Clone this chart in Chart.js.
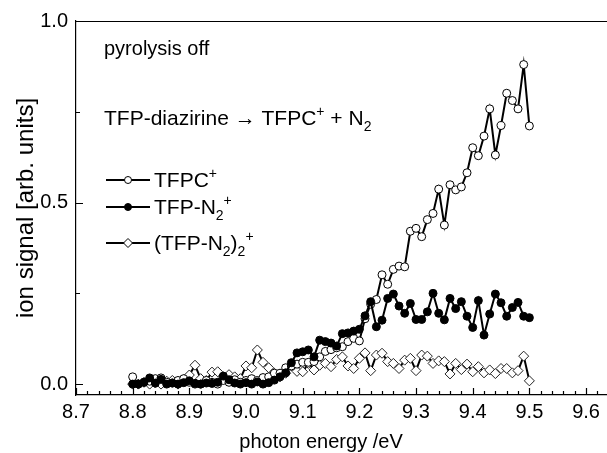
<!DOCTYPE html>
<html>
<head>
<meta charset="utf-8">
<script src="https://cdn.jsdelivr.net/npm/chart.js@4.4.1/dist/chart.umd.min.js"></script>
<style>
  html, body { margin: 0; padding: 0; background: #fff; }
  #chart { display: block; }
</style>
</head>
<body>
<canvas id="chart" width="607" height="453"></canvas>
<script>
const FONT = "'Liberation Sans', Arial, sans-serif";

// photon energy /eV
const ENERGY = [
  8.80, 8.81, 8.82, 8.83, 8.84, 8.85, 8.86, 8.87, 8.88, 8.89,
  8.90, 8.91, 8.92, 8.93, 8.94, 8.95, 8.96, 8.97, 8.98, 8.99,
  9.00, 9.01, 9.02, 9.03, 9.04, 9.05, 9.06, 9.07, 9.08, 9.09,
  9.10, 9.11, 9.12, 9.13, 9.14, 9.15, 9.16, 9.17, 9.18, 9.19,
  9.20, 9.21, 9.22, 9.23, 9.24, 9.25, 9.26, 9.27, 9.28, 9.29,
  9.30, 9.31, 9.32, 9.33, 9.34, 9.35, 9.36, 9.37, 9.38, 9.39,
  9.40, 9.41, 9.42, 9.43, 9.44, 9.45, 9.46, 9.47, 9.48, 9.49,
  9.50,
];

// TFPC+ (open circles)
const TFPC = [
  0.020, 0.000, 0.005, 0.008, 0.015, 0.017, 0.005, 0.003, 0.010, 0.015,
  0.005, 0.000, 0.000, 0.010, 0.005, 0.000, 0.010, 0.005, 0.012, 0.005,
  0.010, 0.015, 0.010, 0.018, 0.020, 0.030, 0.030, 0.045, 0.050, 0.055,
  0.060, 0.060, 0.062, 0.075, 0.090, 0.095, 0.100, 0.103, 0.117, 0.126,
  0.119, 0.180, 0.220, 0.233, 0.301, 0.275, 0.316, 0.325, 0.323, 0.421,
  0.429, 0.406, 0.453, 0.470, 0.537, 0.438, 0.549, 0.535, 0.543, 0.582,
  0.651, 0.629, 0.683, 0.758, 0.631, 0.712, 0.801, 0.781, 0.758, 0.880,
  0.711,
];

// TFP-N2+ (filled circles)
const TFPN2 = [
  0.000, 0.000, 0.005, 0.017, 0.003, 0.013, 0.000, 0.003, 0.000, 0.004,
  0.009, 0.002, 0.000, 0.003, 0.002, 0.005, 0.022, 0.012, 0.003, 0.000,
  0.004, 0.000, 0.006, 0.000, 0.004, 0.011, 0.020, 0.031, 0.059, 0.086,
  0.089, 0.094, 0.075, 0.121, 0.117, 0.113, 0.105, 0.139, 0.141, 0.146,
  0.151, 0.188, 0.227, 0.158, 0.176, 0.236, 0.248, 0.215, 0.195, 0.222,
  0.178, 0.178, 0.199, 0.250, 0.195, 0.177, 0.236, 0.208, 0.227, 0.187,
  0.156, 0.230, 0.135, 0.193, 0.248, 0.224, 0.187, 0.211, 0.225, 0.187,
  0.183,
];

// (TFP-N2)2+ (open diamonds)
const DIMER = [
  0.000, 0.000, 0.005, 0.000, 0.003, 0.000, 0.008, 0.010, 0.000, 0.012,
  0.025, 0.052, 0.015, 0.010, 0.033, 0.034, 0.020, 0.026, 0.020, 0.015,
  0.050, 0.045, 0.094, 0.060, 0.045, 0.030, 0.020, 0.030, 0.050, 0.035,
  0.034, 0.057, 0.039, 0.052, 0.057, 0.048, 0.068, 0.075, 0.050, 0.043,
  0.071, 0.086, 0.037, 0.080, 0.085, 0.062, 0.057, 0.043, 0.066, 0.071,
  0.037, 0.080, 0.077, 0.057, 0.064, 0.062, 0.028, 0.057, 0.040, 0.055,
  0.034, 0.048, 0.031, 0.039, 0.029, 0.043, 0.043, 0.031, 0.037, 0.077,
  0.009,
];

const X_MAJOR = [8.7, 8.8, 8.9, 9.0, 9.1, 9.2, 9.3, 9.4, 9.5, 9.6];
const Y_MAJOR = [0.0, 0.5, 1.0];
const Y_MINOR = [0.25, 0.75];

function points(ys) {
  return ENERGY.map((x, i) => ({ x, y: ys[i] }));
}

// text pieces: [string, "" | "sup" | "sub"]
function richText(ctx, parts, x, y, size) {
  let cx = x;
  for (const [t, mode] of parts) {
    const s = mode ? Math.round(size * 0.67) : size;
    ctx.font = `${s}px ${FONT}`;
    let dy = 0;
    if (mode === "sup") dy = -size * 0.42;
    if (mode === "sub") dy = size * 0.28;
    ctx.fillText(t, cx, y + dy);
    cx += ctx.measureText(t).width;
  }
}

function drawMarker(ctx, style, x, y, r) {
  ctx.beginPath();
  if (style === "diamond") {
    ctx.moveTo(x, y - r);
    ctx.lineTo(x + r, y);
    ctx.lineTo(x, y + r);
    ctx.lineTo(x - r, y);
    ctx.closePath();
  } else {
    ctx.arc(x, y, r, 0, Math.PI * 2);
  }
  ctx.fillStyle = style === "filled" ? "#000" : "#fff";
  ctx.fill();
  ctx.lineWidth = 1;
  ctx.strokeStyle = "#000";
  ctx.stroke();
}

const LEGEND_ROWS = [
  { y: 180, style: "open", parts: [["TFPC", ""], ["+", "sup"]] },
  { y: 207, style: "filled", parts: [["TFP-N", ""], ["2", "sub"], ["+", "sup"]] },
  { y: 243, style: "diamond", parts: [["(TFP-N", ""], ["2", "sub"], [")", ""], ["2", "sub"], ["+", "sup"]] },
];

const frame = {
  id: "frame",
  afterDraw(chart) {
    const { ctx, chartArea: a, scales } = chart;
    const xs = scales.x, ys = scales.y;
    ctx.save();
    ctx.strokeStyle = "#000";
    ctx.lineWidth = 1.2;
    // top line
    ctx.beginPath();
    ctx.moveTo(a.left, a.top + 0.5);
    ctx.lineTo(a.right, a.top + 0.5);
    ctx.stroke();
    // inward ticks
    ctx.beginPath();
    for (let k = 0; k <= 46; k++) {
      const v = 8.7 + k * 0.02;
      if (v > xs.max) break;
      const px = Math.round(xs.getPixelForValue(v)) + 0.5;
      const len = k % 5 === 0 ? 7 : 4;
      ctx.moveTo(px, a.bottom);
      ctx.lineTo(px, a.bottom - len);
    }
    for (const v of Y_MAJOR) {
      const py = Math.round(ys.getPixelForValue(v)) + 0.5;
      ctx.moveTo(a.left, py);
      ctx.lineTo(a.left + 7, py);
    }
    for (const v of Y_MINOR) {
      const py = Math.round(ys.getPixelForValue(v)) + 0.5;
      ctx.moveTo(a.left, py);
      ctx.lineTo(a.left + 4, py);
    }
    ctx.stroke();

    ctx.fillStyle = "#000";
    ctx.textBaseline = "alphabetic";
    ctx.textAlign = "left";

    // x axis title
    ctx.font = `20px ${FONT}`;
    ctx.textAlign = "center";
    ctx.fillText("photon energy /eV", 321, 448);
    ctx.textAlign = "left";

    // annotations
    richText(ctx, [["pyrolysis off", ""]], 104, 55, 20);
    richText(ctx, [["TFP-diazirine \u2192 TFPC", ""], ["+", "sup"], [" + N", ""], ["2", "sub"]], 104, 125, 21);

    // legend
    for (const row of LEGEND_ROWS) {
      ctx.strokeStyle = "#000";
      ctx.lineWidth = 2;
      ctx.beginPath();
      ctx.moveTo(106, row.y);
      ctx.lineTo(150, row.y);
      ctx.stroke();
      drawMarker(ctx, row.style, 128, row.y, row.style === "diamond" ? 4.5 : 3.5);
      ctx.fillStyle = "#000";
      richText(ctx, row.parts, 154, row.y + 7, 21);
    }
    ctx.restore();
  },
};

const tickFont = { family: FONT, size: 20 };

new Chart(document.getElementById("chart"), {
  type: "line",
  data: {
    datasets: [
      {
        label: "TFP-N2+",
        data: points(TFPN2),
        borderColor: "#000",
        borderWidth: 2,
        pointRadius: 4,
        pointBorderWidth: 1,
        pointBackgroundColor: "#000",
        pointBorderColor: "#000",
        order: 0,
      },
      {
        label: "TFPC+",
        data: points(TFPC),
        borderColor: "#000",
        borderWidth: 2,
        pointRadius: 4,
        pointBorderWidth: 1,
        pointBackgroundColor: "#fff",
        pointBorderColor: "#000",
        order: 1,
      },
      {
        label: "(TFP-N2)2+",
        data: points(DIMER),
        borderColor: "#000",
        borderWidth: 2,
        pointStyle: "rectRot",
        pointRadius: 5,
        pointBorderWidth: 1,
        pointBackgroundColor: "#fff",
        pointBorderColor: "#222",
        order: 2,
      },
    ],
  },
  options: {
    responsive: false,
    animation: false,
    devicePixelRatio: 1,
    layout: { autoPadding: false, padding: { top: 21, left: 0, right: 0, bottom: 0 } },
    plugins: { legend: { display: false }, tooltip: { enabled: false } },
    scales: {
      x: {
        type: "linear",
        min: 8.7,
        max: 9.637,
        grid: { display: false, drawTicks: false },
        border: { display: true, color: "#000", width: 1.2 },
        afterBuildTicks: (s) => { s.ticks = X_MAJOR.map((v) => ({ value: v })); },
        afterFit: (s) => { s.height = 58; },
        ticks: {
          color: "#000",
          font: tickFont,
          padding: 5,
          maxRotation: 0,
          callback: (v) => Number(v).toFixed(1),
        },
        title: { display: false, text: "photon energy /eV" },
      },
      y: {
        type: "linear",
        min: -0.03,
        max: 1.0,
        grid: { display: false, drawTicks: false },
        border: { display: true, color: "#000", width: 1.2 },
        afterBuildTicks: (s) => { s.ticks = Y_MAJOR.map((v) => ({ value: v })); },
        afterFit: (s) => { s.width = 76; },
        ticks: {
          color: "#000",
          font: tickFont,
          padding: 8,
          callback: (v) => Number(v).toFixed(1),
        },
        title: {
          display: true,
          text: "ion signal [arb. units]",
          color: "#000",
          font: { family: FONT, size: 24 },
          padding: { top: 12, bottom: 0 },
        },
      },
    },
  },
  plugins: [frame],
});
</script>
</body>
</html>
